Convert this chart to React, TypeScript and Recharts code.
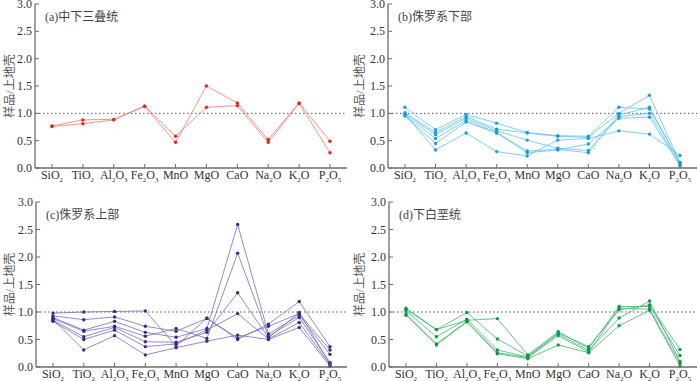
import React from 'react'
import { LineChart, Line, XAxis, YAxis, ReferenceLine } from 'recharts'

const oxides = ['SiO2', 'TiO2', 'Al2O3', 'Fe2O3', 'MnO', 'MgO', 'CaO', 'Na2O', 'K2O', 'P2O5']
const yTicks = [0, 0.5, 1, 1.5, 2, 2.5, 3]

// 样品/上地壳 ratios, one array per sample
const lowerMiddleTriassic = [
  [0.77, 0.88, 0.89, 1.13, 0.47, 1.5, 1.19, 0.52, 1.19, 0.49],
  [0.76, 0.81, 0.88, 1.13, 0.58, 1.11, 1.14, 0.47, 1.18, 0.28],
]

const lowerJurassic = [
  [1.11, 0.7, 0.98, 0.82, 0.65, 0.59, 0.58, 1.11, 1.08, 0.1],
  [1.01, 0.65, 0.94, 0.71, 0.64, 0.58, 0.56, 1.0, 1.33, 0.1],
  [0.99, 0.61, 0.91, 0.68, 0.51, 0.36, 0.32, 0.97, 1.11, 0.09],
  [0.97, 0.54, 0.87, 0.65, 0.31, 0.34, 0.28, 0.94, 1.0, 0.06],
  [0.95, 0.45, 0.84, 0.64, 0.28, 0.33, 0.44, 0.91, 0.93, 0.04],
  [0.98, 0.33, 0.64, 0.3, 0.22, 0.51, 0.54, 0.68, 0.62, 0.23],
]

const upperJurassic = [
  [0.98, 1.0, 1.01, 1.02, 0.38, 0.89, 0.5, 0.78, 1.19, 0.37],
  [0.93, 0.86, 0.91, 0.74, 0.65, 0.88, 0.53, 0.74, 0.97, 0.31],
  [0.9, 0.67, 0.83, 0.63, 0.54, 0.7, 2.59, 0.6, 0.94, 0.23],
  [0.88, 0.65, 0.74, 0.56, 0.7, 0.52, 2.07, 0.56, 0.9, 0.08],
  [0.85, 0.55, 0.72, 0.46, 0.45, 0.63, 1.35, 0.53, 0.99, 0.06],
  [0.83, 0.5, 0.67, 0.37, 0.42, 0.67, 0.97, 0.51, 0.81, 0.04],
  [0.86, 0.31, 0.57, 0.22, 0.35, 0.47, 0.58, 0.5, 0.72, 0.02],
]

const lowerCretaceous = [
  [1.05, 0.68, 0.99, 0.51, 0.2, 0.62, 0.37, 1.04, 1.13, 0.32],
  [1.07, 0.68, 0.85, 0.88, 0.22, 0.64, 0.34, 1.1, 1.1, 0.21],
  [1.02, 0.55, 0.87, 0.31, 0.18, 0.6, 0.3, 0.89, 1.2, 0.1],
  [0.97, 0.42, 0.83, 0.26, 0.17, 0.57, 0.27, 1.07, 1.05, 0.07],
  [0.94, 0.4, 0.82, 0.24, 0.15, 0.4, 0.26, 0.75, 1.03, 0.02],
]

const serif = '"Liberation Serif", "Times New Roman", serif'
const cjk = '"Liberation Serif", "Noto Sans CJK SC", serif'
const frame = '#6b6b6b'

function toRows(series: number[][]) {
  return oxides.map((name, i) => {
    const row: Record<string, number | string> = { name }
    series.forEach((s, j) => {
      row['s' + j] = s[i]
    })
    return row
  })
}

function OxideTick({ x, y, payload }: any) {
  const parts = String(payload.value).match(/[A-Za-z]+|\d+/g) || []
  return (
    <g>
      <line x1={x} y1={y} x2={x} y2={y - 4} stroke={frame} strokeWidth={1} />
      <text x={x} y={y + 11} textAnchor="middle" fontFamily={serif} fontSize={12} fill="#333">
        {parts.map((p: string, i: number) =>
          /\d/.test(p) ? (
            <tspan key={i} fontSize={7} dy={2.5}>{p}</tspan>
          ) : (
            <tspan key={i} dy={i > 0 ? -2.5 : 0}>{p}</tspan>
          )
        )}
      </text>
    </g>
  )
}

function RatioTick({ x, y, payload }: any) {
  return (
    <g>
      <line x1={x} y1={y} x2={x + 4} y2={y} stroke={frame} strokeWidth={1} />
      <text x={x - 3} y={y + 4} textAnchor="end" fontFamily={serif} fontSize={12} fill="#333">
        {Number(payload.value).toFixed(1)}
      </text>
    </g>
  )
}

interface PanelProps {
  title: string
  series: number[][]
  line: string
  dot: string
  left: number
  top: number
  height: number
  marginTop: number
  xHeight: number
  yWidth: number
}

function Panel({ title, series, line, dot, left, top, height, marginTop, xHeight, yWidth }: PanelProps) {
  const data = toRows(series)
  const pad = { left: 17, right: 17 }
  return (
    <div style={{ position: 'absolute', left, top, width: 350, height }}>
      <LineChart
        width={350}
        height={height}
        data={data}
        margin={{ top: marginTop, right: 3, left: 0, bottom: 0 }}
        style={{ overflow: 'visible' }}
      >
        <XAxis
          dataKey="name"
          height={xHeight}
          interval={0}
          padding={pad}
          tickSize={0}
          tickMargin={0}
          tickLine={false}
          axisLine={{ stroke: frame, strokeWidth: 1.3 }}
          tick={<OxideTick />}
        />
        <XAxis
          xAxisId="top"
          orientation="top"
          dataKey="name"
          height={0}
          padding={pad}
          tick={false}
          tickLine={false}
          axisLine={{ stroke: frame, strokeWidth: 1.3 }}
        />
        <YAxis
          domain={[0, 3]}
          ticks={yTicks}
          interval={0}
          width={yWidth}
          tickSize={0}
          tickMargin={0}
          tickLine={false}
          axisLine={{ stroke: frame, strokeWidth: 1.3 }}
          tick={<RatioTick />}
          label={{
            value: '样品/上地壳',
            angle: -90,
            position: 'insideLeft',
            offset: 10,
            style: { textAnchor: 'middle', fontFamily: cjk, fontSize: 12, fill: '#555' },
          }}
        />
        <YAxis
          yAxisId="right"
          orientation="right"
          width={0}
          tick={false}
          tickLine={false}
          axisLine={{ stroke: frame, strokeWidth: 1.3 }}
        />
        <ReferenceLine y={1} stroke="#555" strokeWidth={1} strokeDasharray="1.5 2.5" />
        {series.map((_, j) => (
          <Line
            key={j}
            type="linear"
            dataKey={'s' + j}
            stroke={line}
            strokeWidth={0.8}
            dot={{ r: 1.7, fill: dot, stroke: 'none' }}
            activeDot={false}
            isAnimationActive={false}
          />
        ))}
      </LineChart>
      <div
        style={{
          position: 'absolute',
          left: yWidth + 10,
          top: marginTop + 3,
          fontFamily: cjk,
          fontSize: 12,
          color: '#444',
          whiteSpace: 'nowrap',
        }}
      >
        {title}
      </div>
    </div>
  )
}

export default function App() {
  return (
    <div style={{ position: 'absolute', left: 0, top: 0, width: 700, height: 381, background: '#fff' }}>
      <Panel title="(a)中下三叠统" series={lowerMiddleTriassic} line="#f27a6c" dot="#e8221c"
        left={0} top={0} height={190} marginTop={4} xHeight={22} yWidth={35} />
      <Panel title="(b)侏罗系下部" series={lowerJurassic} line="#5ec3ee" dot="#1a9fd8"
        left={350} top={0} height={190} marginTop={4} xHeight={22} yWidth={38} />
      <Panel title="(c)侏罗系上部" series={upperJurassic} line="#7a6cbd" dot="#3b2a8a"
        left={0} top={190} height={191} marginTop={12} xHeight={14} yWidth={36} />
      <Panel title="(d)下白垩统" series={lowerCretaceous} line="#3fb56e" dot="#0f9a48"
        left={350} top={190} height={191} marginTop={12} xHeight={14} yWidth={39} />
    </div>
  )
}
